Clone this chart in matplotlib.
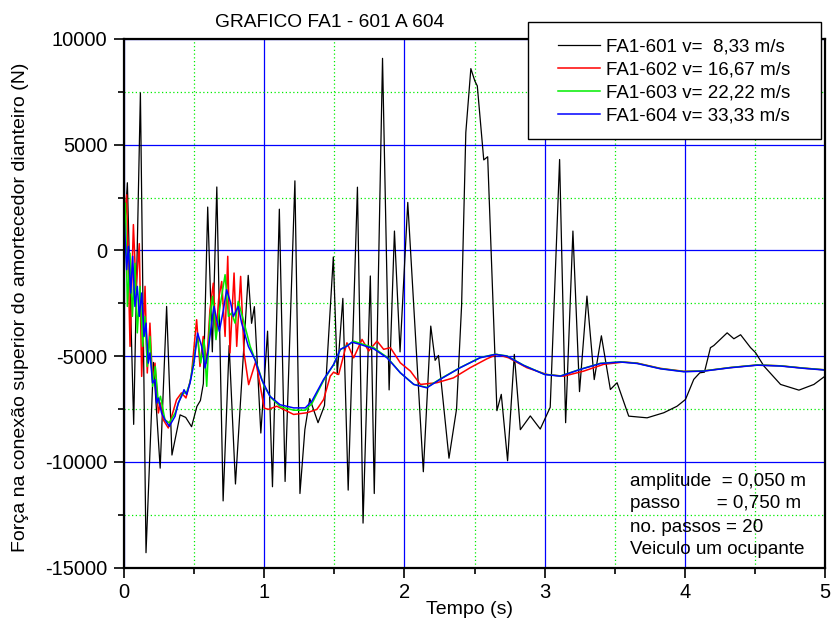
import matplotlib
matplotlib.use("Agg")
import matplotlib.pyplot as plt
from matplotlib.patches import Rectangle
from matplotlib.ticker import MultipleLocator

plt.rcParams['font.family'] = ['Liberation Sans', 'DejaVu Sans']
plt.rcParams['axes.unicode_minus'] = False

# dados
t_601 = [0.0, 0.024, 0.069, 0.117, 0.157, 0.21, 0.258, 0.304, 0.342, 0.40, 0.44, 0.482, 0.52, 0.545,
         0.566, 0.597, 0.63, 0.662, 0.707, 0.75, 0.795, 0.886, 0.91, 0.93, 0.976, 1.024, 1.059, 1.108,
         1.149, 1.219, 1.255, 1.29, 1.325, 1.384, 1.43, 1.493, 1.521, 1.561, 1.599, 1.665, 1.705, 1.757,
         1.785, 1.844, 1.891, 1.929, 1.969, 2.024, 2.135, 2.188, 2.219, 2.243, 2.318, 2.372, 2.408, 2.438,
         2.474, 2.502, 2.52, 2.566, 2.594, 2.66, 2.691, 2.736, 2.784, 2.827, 2.898, 2.969, 3.04, 3.107,
         3.15, 3.202, 3.249, 3.302, 3.354, 3.405, 3.469, 3.517, 3.6, 3.731, 3.85, 3.945, 4.005, 4.064,
         4.107, 4.14, 4.183, 4.207, 4.302, 4.35, 4.398, 4.469, 4.505, 4.564, 4.683, 4.814, 4.921, 5.0]
f_601 = [500, 3200, -8230, 7450, -14300, -5300, -10300, -2650, -9680, -7780, -7900, -8340, -7380, -7100,
         -6300, 2050, -4800, 3000, -11850, -4500, -11050, -1180, -3450, -2660, -8640, -3820, -11180, 1950,
         -10930, 3290, -11500, -8480, -7010, -8150, -7340, -310, -5870, -2270, -11340, 2990, -12900, -1210,
         -11500, 9085, -6600, 915, -4800, 2270, -10470, -3580, -5200, -4970, -9830, -7500, -2600, 5570,
         8600, 8020, 7780, 4280, 4430, -7580, -6810, -9950, -4920, -8480, -7830, -8450, -7420, 4300,
         -8150, 915, -6680, -2160, -6110, -4040, -6580, -6260, -7840, -7920, -7680, -7370, -7050, -6100,
         -5790, -5760, -4600, -4500, -3900, -4180, -3990, -4600, -4840, -5470, -6340, -6610, -6340, -5950]

t_602 = [0.0, 0.019, 0.043, 0.067, 0.086, 0.109, 0.126, 0.15, 0.166, 0.185, 0.204, 0.221, 0.245, 0.26,
         0.28, 0.316, 0.375, 0.41, 0.442, 0.48, 0.518, 0.542, 0.565, 0.59, 0.613, 0.637, 0.656, 0.675,
         0.697, 0.721, 0.74, 0.756, 0.785, 0.804, 0.832, 0.856, 0.889, 0.94, 1.0, 1.03, 1.09, 1.162,
         1.21, 1.305, 1.376, 1.424, 1.471, 1.495, 1.531, 1.59, 1.638, 1.698, 1.745, 1.805, 1.852, 1.9,
         1.971, 2.043, 2.114, 2.231, 2.35, 2.469, 2.588, 2.66, 2.743, 2.874, 3.017, 3.136, 3.279, 3.421,
         3.564, 3.66, 3.826, 3.993, 4.136, 4.326, 4.517, 4.683, 4.85, 5.0]
f_602 = [800, 2630, -4540, 1220, -1860, 320, -5960, -1700, -5800, -3440, -6270, -5330, -7690, -7220,
         -8010, -8400, -7060, -6740, -6980, -5960, -3280, -5490, -4070, -5330, -2810, -1550, -4070, -2300,
         -1470, -4070, -280, -4850, -1070, -4540, -1230, -4850, -6350, -5250, -7460, -7520, -7370, -7600,
         -7760, -7680, -7520, -7050, -5950, -5760, -5870, -4370, -5080, -4210, -4760, -4290, -4680, -4600,
         -5320, -5710, -6340, -6260, -6030, -5550, -5130, -4920, -5080, -5550, -5870, -5950, -5710, -5390,
         -5280, -5330, -5580, -5720, -5700, -5540, -5420, -5460, -5570, -5650]

t_603 = [0.0, 0.01, 0.024, 0.043, 0.06, 0.078, 0.095, 0.114, 0.133, 0.15, 0.166, 0.185, 0.204, 0.223,
         0.245, 0.26, 0.292, 0.323, 0.364, 0.411, 0.447, 0.47, 0.494, 0.523, 0.547, 0.571, 0.59, 0.613,
         0.632, 0.656, 0.685, 0.721, 0.745, 0.768, 0.792, 0.815, 0.851, 0.9, 0.95, 1.0, 1.05, 1.113,
         1.21, 1.293, 1.34, 1.424, 1.495, 1.543, 1.59, 1.64, 1.686, 1.78, 1.876, 1.971, 2.067, 2.16,
         2.255, 2.398, 2.54, 2.648, 2.731, 2.85, 3.0, 3.112, 3.255, 3.398, 3.54, 3.66, 3.826, 3.993,
         4.136, 4.326, 4.517, 4.683, 4.85, 5.0]
f_603 = [1200, 2240, -2650, -130, -3120, -610, -3900, -1700, -4540, -3120, -5490, -4070, -6430, -5490,
         -7220, -6900, -8010, -8160, -7700, -6800, -6700, -6270, -5330, -4070, -5330, -4220, -6430, -3120,
         -2170, -4220, -2650, -1150, -3120, -2960, -3440, -2410, -3280, -4540, -5430, -6430, -6980, -7380,
         -7560, -7560, -7250, -6150, -5400, -4700, -4500, -4300, -4400, -4600, -5050, -5790, -6340, -6480,
         -6080, -5540, -5070, -4910, -4990, -5430, -5860, -5940, -5620, -5340, -5270, -5340, -5590, -5730,
         -5700, -5540, -5420, -5460, -5570, -5650]

t_604 = [0.0, 0.019, 0.031, 0.048, 0.062, 0.078, 0.095, 0.109, 0.126, 0.143, 0.157, 0.173, 0.185, 0.204,
         0.221, 0.233, 0.245, 0.268, 0.292, 0.323, 0.364, 0.387, 0.411, 0.428, 0.447, 0.471, 0.499, 0.525,
         0.554, 0.578, 0.601, 0.625, 0.642, 0.661, 0.68, 0.709, 0.732, 0.761, 0.78, 0.815, 0.839, 0.887,
         0.934, 0.982, 1.041, 1.113, 1.21, 1.293, 1.34, 1.424, 1.495, 1.543, 1.59, 1.626, 1.686, 1.78,
         1.876, 1.971, 2.067, 2.16, 2.255, 2.398, 2.54, 2.648, 2.731, 2.85, 3.0, 3.112, 3.255, 3.398,
         3.54, 3.66, 3.826, 3.993, 4.136, 4.326, 4.517, 4.683, 4.85, 5.0]
f_604 = [1610, -910, 190, -2017, -280, -2650, -1700, -3120, -2017, -4070, -3440, -5330, -4850, -6270,
         -6115, -7220, -6983, -7690, -8010, -8320, -7850, -7220, -6900, -6590, -6820, -6270, -5330, -3910,
         -4540, -5560, -4700, -3440, -2650, -3280, -3830, -2810, -1860, -2490, -3120, -2650, -3440, -4540,
         -5170, -6110, -6900, -7300, -7450, -7450, -7130, -6100, -5400, -4680, -4530, -4340, -4450, -4650,
         -5080, -5790, -6340, -6500, -6100, -5550, -5080, -4920, -5000, -5440, -5870, -5950, -5630, -5350,
         -5280, -5350, -5600, -5740, -5710, -5550, -5430, -5470, -5580, -5660]

rotulos = ["FA1-601 v=  8,33 m/s", "FA1-602 v= 16,67 m/s", "FA1-603 v= 22,22 m/s", "FA1-604 v= 33,33 m/s"]
cores = ['black', '#ff0000', '#00ee00', '#0000ff']
notas = ["amplitude  = 0,050 m", "passo       = 0,750 m", "no. passos = 20", "Veiculo um ocupante"]

W, H = 831, 623
fig = plt.figure(figsize=(W / 100, H / 100), dpi=100)
ax = fig.add_axes([124 / W, 1 - 567.5 / H, (825 - 124) / W, (567.5 - 39) / H])

series = [(t_601, f_601), (t_602, f_602), (t_603, f_603), (t_604, f_604)]
linhas = []
for (t, f), c, lab in zip(series, cores, rotulos):
    lw = 0.9 if c == 'black' else 1.1
    l, = ax.plot(t, f, color=c, lw=lw, label=lab)
    linhas.append(l)

ax.set_xlim(0, 5)
ax.set_ylim(-15000, 10000)
ax.xaxis.set_major_locator(MultipleLocator(1))
ax.xaxis.set_minor_locator(MultipleLocator(0.5))
ax.yaxis.set_major_locator(MultipleLocator(5000))
ax.yaxis.set_minor_locator(MultipleLocator(2500))

ax.grid(which='major', color='#0000ff', lw=0.9, ls='-')
ax.grid(which='minor', color='#00ee00', lw=0.9, ls=(0, (1, 2)))

for s in ax.spines.values():
    s.set_linewidth(1.6)
ax.tick_params(which='major', direction='out', length=7, width=1.2, labelsize=14.5, pad=5)
ax.tick_params(which='minor', direction='out', length=4.5, width=1.2)
ax.tick_params(axis='x', which='major', pad=4)

# titulo e eixos
fig.text(215 / W, 1 - 27 / H, "GRAFICO FA1 - 601 A 604", fontsize=13.8, ha='left', va='baseline')
fig.text(426 / W, 1 - 614 / H, "Tempo (s)", fontsize=14, ha='left', va='baseline')
fig.text(21 / W, 1 - 307 / H, "Força na conexão superior do amortecedor dianteiro (N)",
         fontsize=14, rotation=90, ha='center', va='center')

# caixa da legenda
fig.add_artist(Rectangle((528 / W, 1 - 139 / H), (821 - 528) / W, (139 - 22) / H,
                         transform=fig.transFigure, facecolor='white', edgecolor='black', lw=1.0, zorder=3))
leg = fig.legend(handles=linhas, loc='upper left', bbox_to_anchor=(558 / W, 1 - 38 / H),
                 frameon=False, fontsize=13.5, handlelength=2.25, handletextpad=0.32,
                 labelspacing=0.32, borderpad=0, borderaxespad=0)
leg.set_zorder(4)

# notas
for txt, yb in zip(notas, [485.7, 508, 531.5, 554]):
    fig.text(630 / W, 1 - yb / H, txt, fontsize=13.6, ha='left', va='baseline')

fig.savefig("out.png", dpi=100)
